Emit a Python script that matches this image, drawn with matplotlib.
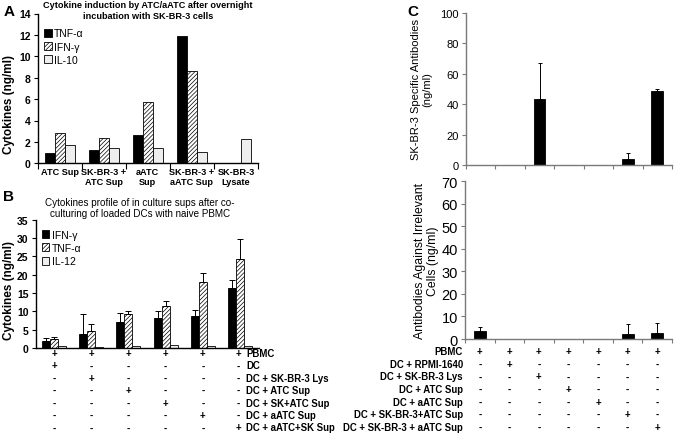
import matplotlib
matplotlib.use("Agg")
import matplotlib.pyplot as plt
import matplotlib.transforms as mtransforms
import numpy as np

plt.rcParams['font.family'] = ['Liberation Sans', 'DejaVu Sans']
plt.rcParams['hatch.linewidth'] = 0.5

# ---------------- Data ----------------
a_categories = ["ATC Sup", "SK-BR-3 +\nATC Sup", "aATC\nSup", "SK-BR-3 +\naATC Sup", "SK-BR-3\nLysate"]
a_tnf = [1.0, 1.28, 2.6, 11.87, 0.0]
a_ifn = [2.8, 2.37, 5.73, 8.63, 0.0]
a_il10 = [1.7, 1.4, 1.43, 1.03, 2.27]
a_title = "Cytokine induction by ATC/aATC after overnight\nincubation with SK-BR-3 cells"

b_ifn = [1.9, 3.9, 7.2, 8.2, 8.8, 16.4]
b_ifn_err = [0.7, 5.4, 2.3, 1.9, 1.7, 2.1]
b_tnf = [2.36, 4.6, 9.27, 11.45, 18.0, 24.4]
b_tnf_err = [0.6, 1.9, 0.7, 1.4, 2.45, 5.3]
b_il12 = [0.55, 0.27, 0.45, 0.7, 0.45, 0.64]
b_title = "Cytokines profile of in culture sups after co-\nculturing of loaded DCs with naive PBMC"
b_rows = ["PBMC", "DC", "DC + SK-BR-3 Lys", "DC + ATC Sup", "DC + SK+ATC Sup",
          "DC + aATC Sup", "DC + aATC+SK Sup"]
b_signs = ["++++++", "+-----", "-+----", "--+---", "---+--", "----+-", "-----+"]

c_top = [0, 0, 43.3, 0, 0, 3.7, 48.4]
c_top_err = [0, 0, 23.7, 0, 0, 4.2, 1.5]
c_bot = [3.56, 0, 0, 0, 0, 2.07, 2.5]
c_bot_err = [1.8, 0, 0, 0, 0, 4.6, 4.6]
c_rows = ["PBMC", "DC + RPMI-1640", "DC + SK-BR-3 Lys", "DC + ATC Sup", "DC + aATC Sup",
          "DC + SK-BR-3+ATC Sup", "DC + SK-BR-3 + aATC Sup"]
c_signs = ["+++++++", "-+-----", "--+----", "---+---", "----+--", "-----+-", "------+"]

# ---------------- Figure ----------------
W, H = 675, 435
fig = plt.figure(figsize=(W / 100, H / 100), dpi=100)


def px_axes(x0, y0, x1, y1):
    return fig.add_axes([x0 / W, 1 - y1 / H, (x1 - x0) / W, (y1 - y0) / H])


def fx(x):
    return x / W


def fy(y):
    return 1 - y / H


def style_axes(ax, color='black'):
    for s in ['top', 'right']:
        ax.spines[s].set_visible(False)
    for s in ['left', 'bottom']:
        ax.spines[s].set_color(color)
        ax.spines[s].set_linewidth(1.0)
    ax.tick_params(axis='y', direction='out', length=3, width=0.8, color=color, pad=2)


BLACK = 'black'
LIGHT = '#eeeeee'
HATCH = '////////'

# ---------------- Panel A ----------------
axA = px_axes(37.7, 14.5, 258, 164.3)
style_axes(axA)
xa = np.arange(len(a_categories))
bw = 0.227
axA.bar(xa - bw, a_tnf, bw, color=BLACK, edgecolor=BLACK, linewidth=0.6, label="TNF-α")
axA.bar(xa, a_ifn, bw, color='white', edgecolor=BLACK, hatch=HATCH, linewidth=0.6, label="IFN-γ")
axA.bar(xa + bw, a_il10, bw, color=LIGHT, edgecolor=BLACK, linewidth=0.6, label="IL-10")
axA.set_xlim(-0.5, len(a_categories) - 0.5)
axA.set_ylim(0, 14)
axA.set_yticks(np.arange(0, 15, 2))
axA.set_xticks(xa)
axA.set_xticklabels(a_categories, fontsize=6.6, fontweight='bold', linespacing=1.05)
axA.tick_params(axis='x', length=0, pad=3)
axA.set_xticks(np.arange(-0.5, len(a_categories), 1.0), minor=True)
axA.tick_params(axis='x', which='minor', length=4, width=0.8, direction='out')
for t in axA.get_yticklabels():
    t.set_fontweight('bold')
    t.set_fontsize(7.5)
fig.text(fx(9), fy(105), "Cytokines (ng/ml)", rotation=90, ha='center', va='center',
         fontsize=8.5, fontweight='bold')
axA.legend(loc='upper left', bbox_to_anchor=(0.03, 0.9), frameon=False, fontsize=7.5,
           handlelength=0.7, handleheight=0.8, handletextpad=0.25, labelspacing=0.3,
           borderpad=0, borderaxespad=0)
fig.text(fx(148), fy(11), a_title, ha='center', va='center', fontsize=6.6,
         fontweight='bold', linespacing=1.2)
fig.text(fx(9), fy(12), "A", ha='center', va='center', fontsize=11, fontweight='bold')

# ---------------- Panel B ----------------
axB = px_axes(35.5, 220.7, 258.5, 349)
style_axes(axB)
xb = np.arange(len(b_ifn))
bw = 0.216
ekw = dict(fmt='none', ecolor=BLACK, elinewidth=0.7, capsize=2, capthick=0.7)
axB.bar(xb - bw, b_ifn, bw, color=BLACK, edgecolor=BLACK, linewidth=0.6, label="IFN-γ")
axB.errorbar(xb - bw, b_ifn, yerr=[np.zeros(len(b_ifn)), b_ifn_err], **ekw)
axB.bar(xb, b_tnf, bw, color='white', edgecolor=BLACK, hatch=HATCH, linewidth=0.6, label="TNF-α")
axB.errorbar(xb, b_tnf, yerr=[np.zeros(len(b_tnf)), b_tnf_err], **ekw)
axB.bar(xb + bw, b_il12, bw, color=LIGHT, edgecolor=BLACK, linewidth=0.6, label="IL-12")
axB.set_xlim(-0.5, len(b_ifn) - 0.5)
axB.set_ylim(0, 35)
axB.set_yticks(np.arange(0, 36, 5))
axB.set_xticks([])
for t in axB.get_yticklabels():
    t.set_fontweight('bold')
    t.set_fontsize(7.5)
fig.text(fx(9), fy(291), "Cytokines (ng/ml)", rotation=90, ha='center', va='center',
         fontsize=8.5, fontweight='bold')
axB.legend(loc='upper left', bbox_to_anchor=(0.03, 0.92), frameon=False, fontsize=7.5,
           handlelength=0.7, handleheight=0.8, handletextpad=0.25, labelspacing=0.3,
           borderpad=0, borderaxespad=0)
fig.text(fx(140), fy(208.7), b_title, ha='center', va='center', fontsize=7.1,
         linespacing=1.2)
fig.text(fx(9), fy(197), "B", ha='center', va='center', fontsize=11, fontweight='bold')

trB = mtransforms.blended_transform_factory(axB.transData, fig.transFigure)
for i, (lab, signs) in enumerate(zip(b_rows, b_signs)):
    yy = fy(354 + i * 12.4)
    for j, s in enumerate(signs):
        axB.text(xb[j] - (0.05 if j == len(signs) - 1 else 0), yy, s, transform=trB,
                 ha='center', va='center', fontsize=7, fontweight='bold', clip_on=False)
    fig.text(fx(246), yy, lab, ha='left', va='center', fontsize=6.9, fontweight='bold')

# ---------------- Panel C top ----------------
GRAY = '#7a7a7a'
axC1 = px_axes(466, 14, 672, 166)
style_axes(axC1, GRAY)
xc = np.arange(len(c_top))
bw = 0.4
axC1.bar(xc, c_top, bw, color=BLACK, edgecolor=BLACK, linewidth=0.6)
axC1.errorbar(xc, c_top, yerr=[np.zeros(len(c_top)), c_top_err],
              fmt='none', ecolor=BLACK, elinewidth=0.7, capsize=1.5, capthick=0.7)
axC1.set_xlim(-0.5, len(c_top) - 0.5)
axC1.set_ylim(0, 100)
axC1.set_yticks(np.arange(0, 101, 20))
axC1.set_xticks([])
axC1.set_xticks(np.arange(-0.5, len(c_top), 1.0), minor=True)
axC1.tick_params(axis='x', which='minor', length=3, width=0.8, direction='out', color=GRAY)
axC1.tick_params(axis='y', labelsize=8)
axC1.set_ylabel("SK-BR-3 Specific Antibodies\n(ng/ml)", fontsize=8, labelpad=6, linespacing=1.1)
fig.text(fx(413), fy(12), "C", ha='center', va='center', fontsize=11, fontweight='bold')

# ---------------- Panel C bottom ----------------
axC2 = px_axes(465, 182.3, 672, 340)
style_axes(axC2, GRAY)
axC2.bar(xc, c_bot, bw, color=BLACK, edgecolor=BLACK, linewidth=0.6)
axC2.errorbar(xc, c_bot, yerr=[np.zeros(len(c_bot)), c_bot_err],
              fmt='none', ecolor=BLACK, elinewidth=0.7, capsize=1.5, capthick=0.7)
axC2.set_xlim(-0.5, len(c_bot) - 0.5)
axC2.set_ylim(0, 70)
axC2.set_yticks(np.arange(0, 71, 10))
axC2.set_xticks([])
axC2.set_xticks(np.arange(-0.5, len(c_bot), 1.0), minor=True)
axC2.tick_params(axis='x', which='minor', length=3, width=0.8, direction='out', color=GRAY)
axC2.tick_params(axis='y', labelsize=10.5)
axC2.set_ylabel("Antibodies Against Irrelevant\nCells (ng/ml)", fontsize=8.8, labelpad=2,
                linespacing=1.1)

trC = mtransforms.blended_transform_factory(axC2.transData, fig.transFigure)
for i, (lab, signs) in enumerate(zip(c_rows, c_signs)):
    yy = fy(352.3 + i * 12.6)
    for j, s in enumerate(signs):
        axC2.text(xc[j], yy, s, transform=trC, ha='center', va='center', fontsize=7,
                  fontweight='bold', clip_on=False)
    fig.text(fx(463), yy, lab, ha='right', va='center', fontsize=6.9, fontweight='bold')

fig.savefig("out.png", dpi=100)
